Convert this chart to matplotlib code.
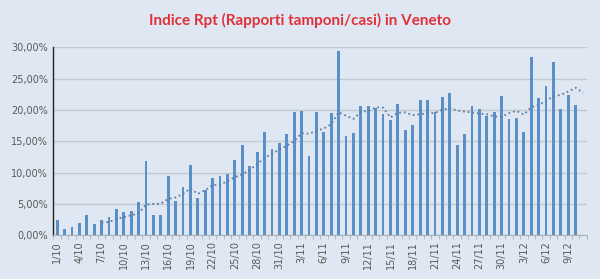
import numpy as np
import matplotlib
matplotlib.use("Agg")
import matplotlib.pyplot as plt
from matplotlib.ticker import FuncFormatter

# dates 1/10 .. 11/12, Rpt index in percent (11/12 has no value)
dates = [f"{d}/10" for d in range(1, 32)] + [f"{d}/11" for d in range(1, 31)] + [f"{d}/12" for d in range(1, 12)]
rpt_oct = [2.4, 1.0, 1.4, 2.0, 3.3, 1.9, 2.5, 2.9, 4.3, 3.7,
           3.9, 5.3, 11.95, 3.2, 3.2, 9.5, 5.5, 7.8, 11.3, 6.0,
           7.2, 9.2, 9.5, 9.8, 12.1, 14.5, 11.1, 13.3, 16.5, 13.8, 14.8]
rpt_nov = [16.2, 19.7, 19.9, 12.7, 19.7, 16.5, 19.6, 29.5, 15.8, 16.4,
           20.7, 20.6, 20.4, 19.4, 18.5, 21.0, 16.9, 17.55, 21.6, 21.6,
           19.7, 22.1, 22.7, 14.4, 16.2, 20.7, 20.2, 19.1, 19.7, 22.2]
rpt_dec = [18.6, 18.7, 16.5, 28.4, 21.9, 23.8, 27.6, 20.1, 22.4, 20.8, np.nan]
rpt = np.array(rpt_oct + rpt_nov + rpt_dec)

ma_period = 7

# moving average like the spreadsheet trendline (blank cells skipped)
ma = np.full(len(rpt), np.nan)
for i in range(ma_period - 1, len(rpt)):
    ma[i] = np.nanmean(rpt[i - ma_period + 1:i + 1])

bg = "#dfe8f2"
fig = plt.figure(figsize=(6, 2.79), dpi=100, facecolor=bg)
ax = fig.add_axes([0.089, 0.156, 0.889, 0.674], facecolor=bg)

x = np.arange(len(dates))
ax.bar(x, rpt, width=0.38, color="#5b8fc8", zorder=3)
ax.plot(x, ma, linestyle=(0, (1, 1.6)), color="#5b7ea6", linewidth=1.3, zorder=4)

ax.set_xlim(-0.5, len(dates) - 0.5)
ax.set_ylim(0, 30)
ax.set_yticks(np.arange(0, 31, 5))
ax.yaxis.set_major_formatter(FuncFormatter(lambda v, p: f"{v:.2f}%".replace(".", ",")))
ax.set_xticks(x[::3])
ax.set_xticklabels(dates[::3], rotation=90)
ax.set_xticks(np.arange(-0.5, len(dates), 1), minor=True)
ax.tick_params(axis="both", labelsize=7, colors="#595959", length=0, pad=4)
ax.tick_params(axis="x", which="minor", length=3, color="#a9b1ba")
ax.grid(axis="y", color="#c2c9d1", linewidth=1, zorder=0)

for s in ["top", "right"]:
    ax.spines[s].set_visible(False)
ax.spines["left"].set_color("#222222")
ax.spines["left"].set_linewidth(1)
ax.spines["bottom"].set_color("#a9b1ba")

fig.text(0.5, 0.925, "Indice Rpt (Rapporti tamponi/casi) in Veneto", ha="center", va="center",
         color="#e0313b", fontsize=11, fontweight="bold", family=["Lato", "DejaVu Sans"])

fig.savefig("out.png", dpi=100, facecolor=bg)
